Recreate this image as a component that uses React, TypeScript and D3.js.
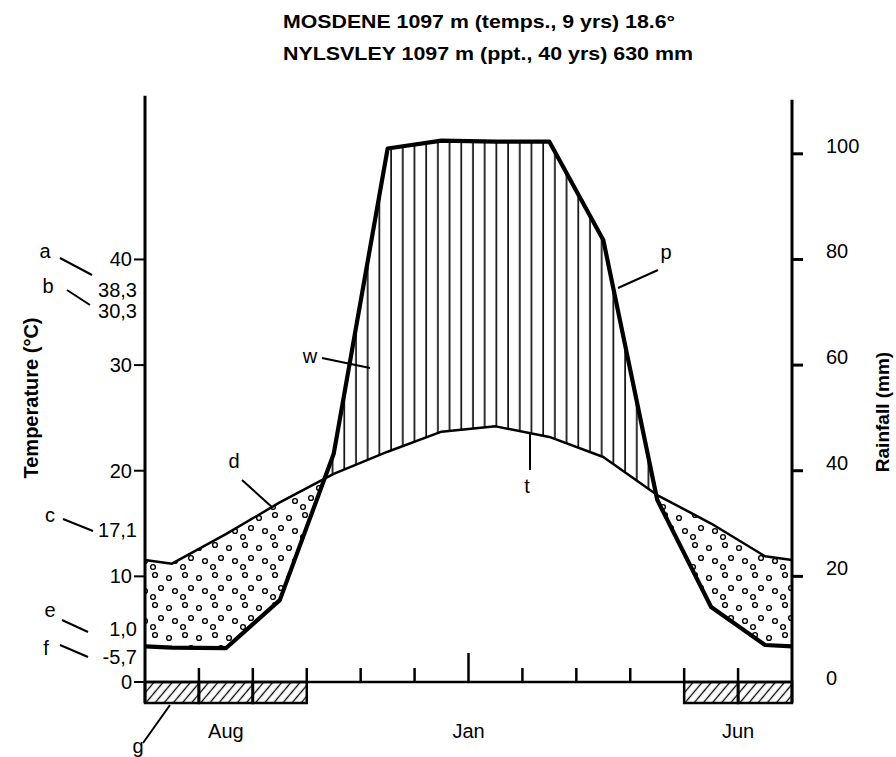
import { useEffect, useRef } from 'react'
import * as d3 from 'd3'

// Walter climate diagram, Jul -> Jun (southern hemisphere)
const months = ['Jul', 'Aug', 'Sep', 'Oct', 'Nov', 'Dec', 'Jan', 'Feb', 'Mar', 'Apr', 'May', 'Jun']
const tempC = [11.2, 14.0, 17.0, 19.7, 21.8, 23.7, 24.2, 23.2, 21.3, 17.7, 15.0, 11.9]
const rainMm = [6.5, 6.4, 15.5, 43.2, 101, 102.5, 102.3, 102.3, 83.7, 34.5, 14.2, 7.0]
const frostMonths = ['Jul', 'Aug', 'Sep', 'May', 'Jun']
const monthLabels = [
  { text: 'Aug', at: 1.5 },
  { text: 'Jan', at: 6 },
  { text: 'Jun', at: 11 },
]
const bigTickAt = 6
const tempTicks = [0, 10, 20, 30, 40]
const rainTicks = [0, 20, 40, 60, 80, 100]
const titleLines = ['MOSDENE 1097 m (temps., 9 yrs) 18.6°', 'NYLSVLEY 1097 m (ppt., 40 yrs) 630 mm']
const sideValues = ['38,3', '30,3', '17,1', '1,0', '-5,7']
const noteLetters = ['a', 'b', 'c', 'e', 'f', 'g', 'd', 'w', 't', 'p']

// annotation layout (letter position + leader line)
const noteLayout = {
  a: { tx: 45, ty: 258, line: [60, 258, 92, 275] },
  b: { tx: 48, ty: 293, line: [67, 290, 90, 305] },
  c: { tx: 50, ty: 522, line: [63, 519, 93, 531] },
  e: { tx: 50, ty: 617, line: [62, 620, 88, 632] },
  f: { tx: 46, ty: 655, line: [60, 645, 88, 657] },
  g: { tx: 138, ty: 753, line: [143, 743, 170, 705] },
  d: { tx: 234, ty: 468, line: [242, 480, 273, 508] },
  w: { tx: 310, ty: 363, line: [322, 358, 370, 368] },
  t: { tx: 527, ty: 493, line: [530, 433, 530, 470] },
  p: { tx: 666, ty: 259, line: [658, 270, 618, 288] },
}
const sideValueY = [297, 318, 537, 636, 664]

const FONT = "'Liberation Sans', Arial, Helvetica, sans-serif"

export default function App() {
  const svgRef = useRef(null)
  const width = 896
  const height = 757

  useEffect(() => {
    const svg = d3.select(svgRef.current)
    svg.selectAll('*').remove()

    const x = d3.scaleLinear().domain([0, 12]).range([145, 792])
    const y = d3.scaleLinear().domain([0, 110]).range([682, 101]) // mm
    const yT = d3.scaleLinear().domain([0, 55]).range([682, 101]) // °C, 10° = 20 mm
    const axisTop = y(111)
    const boxBottom = 703

    const defs = svg.append('defs')

    const vHatch = defs
      .append('pattern')
      .attr('id', 'vhatch')
      .attr('patternUnits', 'userSpaceOnUse')
      .attr('width', 11.7)
      .attr('height', 20)
    vHatch.append('line').attr('x1', 5).attr('x2', 5).attr('y1', 0).attr('y2', 20).attr('stroke', '#000').attr('stroke-width', 1.6)

    const dots = defs
      .append('pattern')
      .attr('id', 'dots')
      .attr('patternUnits', 'userSpaceOnUse')
      .attr('width', 30)
      .attr('height', 30)
    ;[[5, 5], [19, 8], [11, 18], [25, 21], [3, 27]].forEach(([cx, cy]) => {
      dots.append('circle').attr('cx', cx).attr('cy', cy).attr('r', 2.4).attr('fill', '#fff').attr('stroke', '#000').attr('stroke-width', 1.4)
    })

    const dHatch = defs
      .append('pattern')
      .attr('id', 'dhatch')
      .attr('patternUnits', 'userSpaceOnUse')
      .attr('width', 7)
      .attr('height', 10)
      .attr('patternTransform', 'rotate(40)')
    dHatch.append('line').attr('x1', 3.5).attr('x2', 3.5).attr('y1', 0).attr('y2', 10).attr('stroke', '#000').attr('stroke-width', 1.3)

    // points at month centres, plus wrap-around edge values at both axes
    const edge = (arr) => (arr[0] + arr[arr.length - 1]) / 2
    const tempPts = [[0, edge(tempC) * 2], ...tempC.map((v, i) => [i + 0.5, v * 2]), [12, edge(tempC) * 2]]
    const rainPts = [[0, edge(rainMm)], ...rainMm.map((v, i) => [i + 0.5, v]), [12, edge(rainMm)]]

    const line = d3.line().x((d) => x(d[0])).y((d) => y(d[1]))

    defs
      .append('clipPath')
      .attr('id', 'belowRain')
      .append('path')
      .attr('d', d3.area().x((d) => x(d[0])).y0(y(0)).y1((d) => y(d[1]))(rainPts))
    defs
      .append('clipPath')
      .attr('id', 'aboveRain')
      .append('path')
      .attr('d', d3.area().x((d) => x(d[0])).y0((d) => y(d[1])).y1(axisTop)(rainPts))

    // humid period
    svg
      .append('path')
      .attr('d', d3.area().x((d) => x(d[0])).y0((d) => y(d[1])).y1(axisTop)(tempPts))
      .attr('fill', 'url(#vhatch)')
      .attr('clip-path', 'url(#belowRain)')
    // arid period
    svg
      .append('path')
      .attr('d', d3.area().x((d) => x(d[0])).y0((d) => y(d[1])).y1(y(0))(tempPts))
      .attr('fill', 'url(#dots)')
      .attr('clip-path', 'url(#aboveRain)')

    // frost months box
    frostMonths.forEach((m) => {
      const i = months.indexOf(m)
      svg
        .append('rect')
        .attr('x', x(i))
        .attr('y', y(0))
        .attr('width', x(i + 1) - x(i))
        .attr('height', boxBottom - y(0))
        .attr('fill', 'url(#dhatch)')
        .attr('stroke', '#000')
        .attr('stroke-width', 2.5)
    })

    // axes
    svg.append('line').attr('x1', x(0)).attr('x2', x(0)).attr('y1', axisTop).attr('y2', boxBottom).attr('stroke', '#000').attr('stroke-width', 3)
    svg.append('line').attr('x1', x(12)).attr('x2', x(12)).attr('y1', axisTop + 4).attr('y2', boxBottom).attr('stroke', '#000').attr('stroke-width', 3)
    svg.append('line').attr('x1', x(0)).attr('x2', x(12)).attr('y1', y(0)).attr('y2', y(0)).attr('stroke', '#000').attr('stroke-width', 2.5)

    // month ticks
    d3.range(1, 12).forEach((i) => {
      const frost = frostMonths.includes(months[i]) && frostMonths.includes(months[i - 1])
      svg
        .append('line')
        .attr('x1', x(i))
        .attr('x2', x(i))
        .attr('y1', frost ? boxBottom : y(0))
        .attr('y2', y(0) - (i === bigTickAt ? 29 : 14))
        .attr('stroke', '#000')
        .attr('stroke-width', 2.5)
    })
    monthLabels.forEach((m) => {
      svg
        .append('text')
        .attr('x', x(m.at))
        .attr('y', 738)
        .attr('text-anchor', 'middle')
        .style('font', `20px ${FONT}`)
        .text(m.text)
    })

    // temperature axis (left)
    tempTicks.forEach((v) => {
      svg.append('line').attr('x1', x(0) - 11).attr('x2', x(0)).attr('y1', yT(v)).attr('y2', yT(v)).attr('stroke', '#000').attr('stroke-width', 2)
      svg
        .append('text')
        .attr('x', x(0) - 13)
        .attr('y', yT(v))
        .attr('dy', '0.35em')
        .attr('text-anchor', 'end')
        .style('font', `20px ${FONT}`)
        .text(v)
    })

    // rainfall axis (right)
    rainTicks.forEach((v) => {
      if (v > 0) {
        svg.append('line').attr('x1', x(12)).attr('x2', x(12) + 11).attr('y1', y(v)).attr('y2', y(v)).attr('stroke', '#000').attr('stroke-width', 3)
      }
      svg
        .append('text')
        .attr('x', 826)
        .attr('y', y(v) - (v > 0 ? 8 : 4))
        .attr('dy', '0.35em')
        .style('font', `20px ${FONT}`)
        .text(v)
    })

    // curves
    svg.append('path').datum(tempPts).attr('d', line).attr('fill', 'none').attr('stroke', '#000').attr('stroke-width', 2.5).attr('stroke-linejoin', 'round')
    svg.append('path').datum(rainPts).attr('d', line).attr('fill', 'none').attr('stroke', '#000').attr('stroke-width', 4.2).attr('stroke-linejoin', 'round')

    // side values
    sideValues.forEach((v, i) => {
      svg.append('text').attr('x', 137).attr('y', sideValueY[i]).attr('text-anchor', 'end').style('font', `20px ${FONT}`).text(v)
    })

    // letter annotations
    noteLetters.forEach((k) => {
      const n = noteLayout[k]
      svg.append('line').attr('x1', n.line[0]).attr('y1', n.line[1]).attr('x2', n.line[2]).attr('y2', n.line[3]).attr('stroke', '#000').attr('stroke-width', 2)
      svg.append('text').attr('x', n.tx).attr('y', n.ty).attr('text-anchor', 'middle').style('font', `20px ${FONT}`).text(k)
    })

    // axis titles
    svg
      .append('text')
      .attr('transform', 'translate(38,398) rotate(-90)')
      .attr('text-anchor', 'middle')
      .style('font', `bold 20px ${FONT}`)
      .text('Temperature (°C)')
    svg
      .append('text')
      .attr('transform', 'translate(889,412) rotate(-90)')
      .attr('text-anchor', 'middle')
      .style('font', `bold 19px ${FONT}`)
      .text('Rainfall (mm)')

    // title
    titleLines.forEach((t, i) => {
      svg
        .append('text')
        .attr('x', 283)
        .attr('y', i === 0 ? 28 : 60)
        .attr('textLength', i === 0 ? 392 : 410)
        .attr('lengthAdjust', 'spacingAndGlyphs')
        .style('font', `bold 18px ${FONT}`)
        .text(t)
    })
  }, [])

  return (
    <svg
      ref={svgRef}
      width={width}
      height={height}
      viewBox={`0 0 ${width} ${height}`}
      style={{ position: 'absolute', left: 0, top: 0, background: '#fff' }}
    />
  )
}
